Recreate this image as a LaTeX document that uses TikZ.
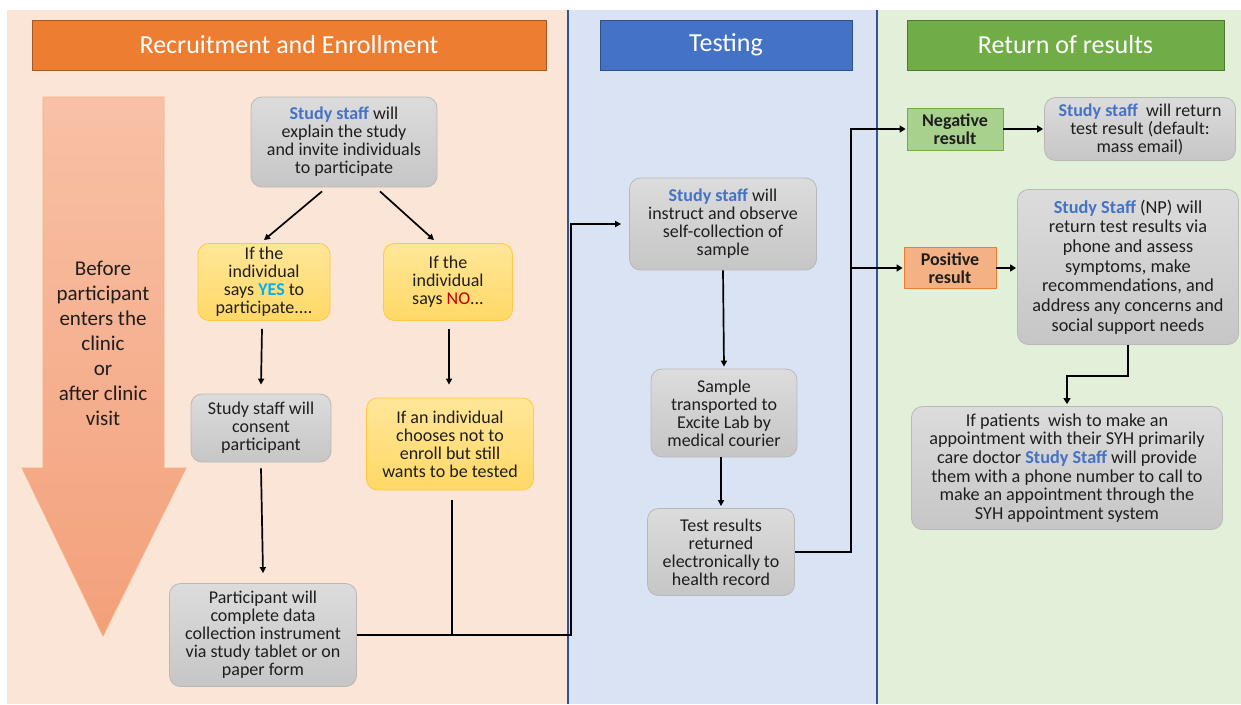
\documentclass[tikz,border=0pt]{standalone}
\usepackage{fontspec}
\setmainfont{Carlito}
\usetikzlibrary{arrows.meta}
\definecolor{peach}{HTML}{FBE5D6}
\definecolor{lblue}{HTML}{DAE3F3}
\definecolor{lgreen}{HTML}{E2F0D9}
\definecolor{hor}{HTML}{ED7D31}
\definecolor{hbl}{HTML}{4472C4}
\definecolor{hgr}{HTML}{70AD47}
\definecolor{divider}{HTML}{2F5597}
\definecolor{gtop}{HTML}{DCDCDC}
\definecolor{gbot}{HTML}{C6C6C6}
\definecolor{gbord}{HTML}{B8B8B8}
\definecolor{ytop}{HTML}{FFE699}
\definecolor{ybot}{HTML}{FFD966}
\definecolor{ybord}{HTML}{FFC846}
\definecolor{staff}{HTML}{4472C4}
\definecolor{yescol}{HTML}{00B0F0}
\definecolor{nocol}{HTML}{C00000}
\definecolor{negfill}{HTML}{A9D18E}
\definecolor{negbord}{HTML}{70AD47}
\definecolor{posfill}{HTML}{F4B183}
\definecolor{posbord}{HTML}{ED7D31}
\definecolor{atop}{HTML}{F8C1A6}
\definecolor{abot}{HTML}{F3A07A}
\definecolor{abord}{HTML}{F4B183}
\definecolor{txt}{HTML}{1E1E1E}
\newcommand{\staffname}[1]{\textbf{\textcolor{staff}{#1}}}
\begin{document}
\begin{tikzpicture}[x=1pt,y=-1pt,
  header/.style={draw=#1!70!black, fill=#1, text=white, minimum width=250pt, minimum height=50pt, font=\fontsize{26}{30}\selectfont, line width=0.6pt},
  gbox/.style={rounded corners=11pt, draw=gbord, top color=gtop, bottom color=gbot, align=center, inner sep=2pt, text=txt, font=\fontsize{18}{18}\selectfont, line width=0.8pt},
  ybox/.style={rounded corners=11pt, draw=ybord, top color=ytop, bottom color=ybot, align=center, inner sep=2pt, text=txt, font=\fontsize{18}{18}\selectfont, line width=0.8pt},
  resbox/.style={draw=#1, align=center, inner sep=1pt, text=txt, font=\bfseries\fontsize{18}{18}\selectfont, line width=0.8pt},
  arr/.style={line width=1.7pt, -{Triangle[length=6pt,width=6pt]}},
  tarr/.style={line width=2.6pt, -{Triangle[length=6pt,width=7pt]}}
]
\useasboundingbox (0,0) rectangle (1241,704);
\fill[white] (0,0) rectangle (1241,704);
% panels
\fill[peach] (7,10) rectangle (568,704);
\fill[lblue] (568,10) rectangle (877,704);
\fill[lgreen] (877,10) rectangle (1241,704);
\draw[divider, line width=1.2pt] (568,10) -- (568,704);
\draw[divider, line width=1.2pt] (877,10) -- (877,704);
% headers
\node[header=hor, minimum width=514pt] (h1) at (289,45) {Recruitment and Enrollment};
\node[header=hbl, minimum width=252pt] (h2) at (726,45) {Testing};
\node[header=hgr, minimum width=317pt] (h3) at (1065.5,45) {Return of results};
% big arrow
\shade[top color=atop, bottom color=abot, draw=abord, line width=0.8pt]
  (43,97) -- (164,97) -- (164,468) -- (186,468) -- (103,636) -- (22,468) -- (43,468) -- cycle;
\node[align=center, text=txt, font=\fontsize{21}{25}\selectfont] (time) at (103,343)
  {Before\\participant\\enters the\\clinic\\or\\after clinic\\visit};
% recruitment nodes
\node[gbox, minimum width=186pt, minimum height=90pt] (ex) at (344,142)
  {\staffname{Study staff} will\\explain the study\\and invite individuals\\to participate};
\node[ybox, minimum width=132pt, minimum height=77pt] (yes) at (264,282)
  {If the\\individual\\says \textbf{\textcolor{yescol}{YES}} to\\participate....};
\node[ybox, minimum width=129pt, minimum height=77pt] (no) at (448,282)
  {If the\\individual\\says \textcolor{nocol}{NO}...};
\node[gbox, minimum width=140pt, minimum height=68pt] (con) at (261,428)
  {Study staff will\\consent\\participant};
\node[ybox, minimum width=167pt, minimum height=92pt] (ne) at (450,444)
  {If an individual\\chooses not to\\enroll but still\\wants to be tested};
\node[gbox, minimum width=187pt, minimum height=103pt] (part) at (263,635)
  {Participant will\\complete data\\collection instrument\\via study tablet or on\\paper form};
% testing nodes
\node[gbox, minimum width=187pt, minimum height=92pt] (ins) at (723,224)
  {\staffname{Study staff} will\\instruct and observe\\self-collection of\\sample};
\node[gbox, minimum width=146pt, minimum height=88pt] (sam) at (724,413)
  {Sample\\transported to\\Excite Lab by\\medical courier};
\node[gbox, minimum width=147pt, minimum height=87pt] (tr) at (721,552)
  {Test results\\returned\\electronically to\\health record};
% results nodes
\node[resbox=negbord, fill=negfill, minimum width=96pt, minimum height=42pt] (neg) at (955,129)
  {Negative\\result};
\node[gbox, minimum width=191pt, minimum height=63pt] (sn) at (1140,129)
  {\staffname{Study staff}\ \ will return\\test result (default:\\mass email)};
\node[resbox=posbord, fill=posfill, minimum width=92pt, minimum height=41pt] (pos) at (950,268)
  {Positive\\result};
\node[gbox, minimum width=221pt, minimum height=155pt, font=\fontsize{18.3}{19.7}\selectfont] (sp) at (1128,267)
  {\staffname{Study Staff} (NP) will\\return test results via\\phone and assess\\symptoms, make\\recommendations, and\\address any concerns and\\social support needs};
\node[gbox, minimum width=311pt, minimum height=123pt, font=\fontsize{18.2}{18.6}\selectfont] (ap) at (1067,468)
  {If patients\ \ wish to make an\\appointment with their SYH primarily\\care doctor \staffname{Study Staff} will provide\\them with a phone number to call to\\make an appointment through the\\SYH appointment system};
% connectors
\draw[arr] ([xshift=-22pt,yshift=-4pt]ex.south) -- ([yshift=3pt]yes.north);
\draw[arr] ([xshift=36pt,yshift=-4pt]ex.south) -- ([xshift=-14pt,yshift=3pt]no.north);
\draw[arr] ([xshift=-2pt,yshift=-8pt]yes.south) -- ([yshift=9pt]con.north);
\draw[arr] ([xshift=1pt,yshift=-8pt]no.south) -- ([xshift=-1pt,yshift=13pt]ne.north);
\draw[arr] ([yshift=-6pt]con.south) -- ([yshift=10pt]part.north);
\coordinate (j1) at (452,635);
\coordinate (c1) at (571,635);
\draw[line width=1.7pt] ([xshift=2pt,yshift=-10pt]ne.south) -- (j1);
\draw[arr] (part.east) -- (c1) |- ([xshift=-8pt]ins.west);
\draw[arr] (ins.south) -- ([yshift=2pt]sam.north);
\draw[arr] ([xshift=-3pt]sam.south) -- ([yshift=2pt]tr.north);
\coordinate (bx) at (851,552);
\draw[tarr] (tr.east) -- (bx) |- ([xshift=-1pt]neg.west);
\draw[tarr] (bx |- pos.west) -- ([xshift=-1pt]pos.west);
\draw[tarr] (neg.east) -- ([xshift=-1pt]neg.east -| sn.west);
\draw[tarr] (pos.east) -- ([xshift=-1pt]pos.east -| sp.west);
\draw[tarr] (sp.south) -- ++(0,31) -| ([yshift=2pt]ap.north);
\end{tikzpicture}
\end{document}
